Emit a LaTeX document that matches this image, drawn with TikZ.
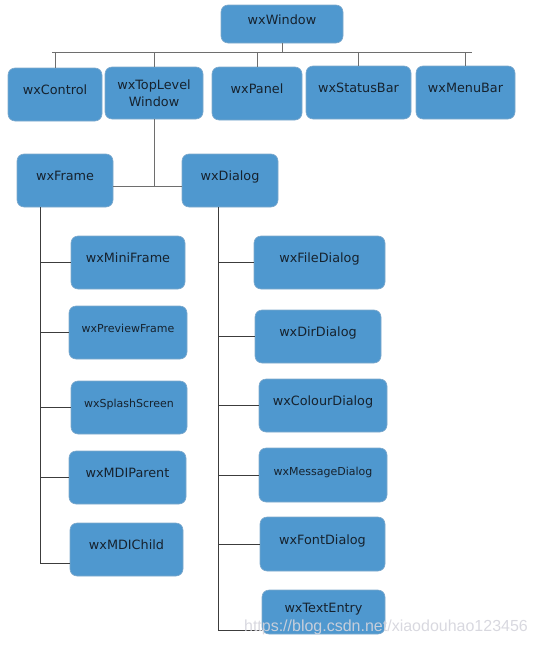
\documentclass[tikz,border=0pt]{standalone}
\usepackage{fontspec}
\setmainfont{DejaVu Sans}
\newfontfamily\wmfont{Liberation Sans}
\definecolor{boxblue}{HTML}{4F98CF}
\definecolor{boxedge}{HTML}{7FA9CC}
\definecolor{textdark}{HTML}{16222E}
\definecolor{linetop}{HTML}{6E6E6E}
\definecolor{linelow}{HTML}{3C3C3C}
\definecolor{wmgray}{HTML}{D4D4DC}
\begin{document}
\begin{tikzpicture}[x=1pt,y=-1pt,
  box/.style={draw=boxedge, line width=0.6pt, fill=boxblue, rounded corners=7pt,
    inner sep=0pt, text=textdark, font=\fontsize{12.8}{17}\selectfont},
  lift/.style={text height=8pt, text depth=8pt},
  small/.style={font=\fontsize{11}{13}\selectfont},
  sz/.style 2 args={minimum width=#1pt, minimum height=#2pt},
  conntop/.style={draw=linetop, line width=0.9pt},
  conn/.style={draw=linelow, line width=0.9pt}]
\useasboundingbox (0,0) rectangle (536,645);

% top level
\node[box,lift,sz={122}{38}] (win) at (282,24) {wxWindow};
\node[box,lift,sz={94}{53}] (ctrl) at (55,94.5) {wxControl};
\node[box,sz={98}{52},align=center] (tlw) at (154,93) {wxTopLevel\\Window};
\node[box,lift,sz={90}{53}] (panel) at (257,93.5) {wxPanel};
\node[box,lift,sz={105}{53}] (sbar) at (358.5,92.5) {wxStatusBar};
\node[box,lift,sz={99}{53}] (mbar) at (465.5,92.5) {wxMenuBar};

\node[box,lift,sz={96}{53}] (frame) at (65,180.5) {wxFrame};
\node[box,lift,sz={96}{53}] (dialog) at (230,180.5) {wxDialog};

% frame children
\node[box,lift,sz={114}{53}] (mini) at (128,262.5) {wxMiniFrame};
\node[box,lift,small,sz={118}{53}] (prev) at (128,332.5) {wxPreviewFrame};
\node[box,lift,small,sz={116}{53}] (splash) at (129,407.5) {wxSplashScreen};
\node[box,lift,sz={117}{53}] (mdip) at (127.5,477.5) {wxMDIParent};
\node[box,lift,sz={113}{53}] (mdic) at (126.5,549.5) {wxMDIChild};

% dialog children
\node[box,lift,sz={131}{53}] (file) at (319.5,262.5) {wxFileDialog};
\node[box,lift,sz={126}{53}] (dir) at (318,336.5) {wxDirDialog};
\node[box,lift,sz={128}{53}] (colour) at (323,405.5) {wxColourDialog};
\node[box,lift,small,sz={128}{54}] (msg) at (323,475) {wxMessageDialog};
\node[box,lift,sz={125}{54}] (font) at (322.5,544) {wxFontDialog};
\node[box,lift,sz={123}{44}] (te) at (323.5,612) {wxTextEntry};

% connectors: top bus
\coordinate (busL) at (52,52);
\coordinate (busR) at (472,52);
\draw[conntop] (busL) -- (busR);
\draw[conntop] (win.south) -- (win.south |- busL);
\foreach \n in {ctrl,tlw,panel,sbar,mbar}
  \draw[conntop] (\n.north) -- (\n.north |- busL);

% toplevel to frame / dialog
\coordinate (jn) at (154,186);
\draw[conntop] (tlw.south) -- (jn);
\draw[conntop] (frame.east |- jn) -- (dialog.west |- jn);

% left spine
\coordinate (ls) at (40,563);
\draw[conn] (frame.south -| ls) -- (ls);
\foreach \n in {mini,prev,splash,mdip}
  \draw[conn] (\n.west -| ls) -- (\n.west);
\draw[conn] (ls) -- (ls -| mdic.west);

% right spine
\coordinate (rs) at (218,630);
\draw[conn] (dialog.south -| rs) -- (rs);
\foreach \n in {file,dir,colour,msg,font}
  \draw[conn] (\n.west -| rs) -- (\n.west);
\draw[conn] (rs) -- (rs -| te.west);

% watermark
\node[font=\wmfont\fontsize{16}{16}\selectfont, text=wmgray, opacity=0.9,
  inner sep=0pt] (wm) at (386,627) {https://blog.csdn.net/xiaodouhao123456};
\end{tikzpicture}
\end{document}
